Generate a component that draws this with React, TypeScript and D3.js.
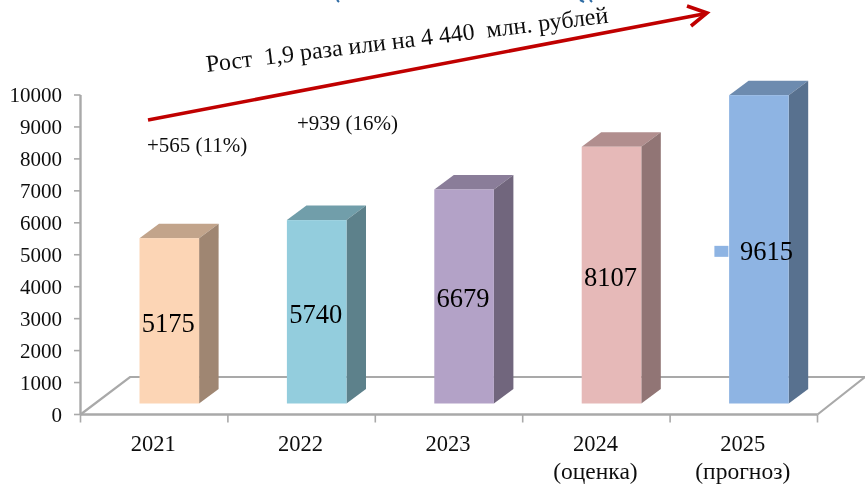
import React from "react";
import * as d3 from "d3";

const categories = ["2021", "2022", "2023", "2024", "2025"];
const subLabels = ["", "", "", "(оценка)", "(прогноз)"];
const values = [5175, 5740, 6679, 8107, 9615];
const drawnHeights = [5175, 5740, 6700, 8035, 9650];
const frontColors = ["#FCD5B5", "#93CDDD", "#B3A2C7", "#E6B9B8", "#8EB4E3"];
const yTicks = d3.range(0, 10001, 1000);
const growthLabel = "Рост  1,9 раза или на 4 440  млн. рублей";
const deltas = ["+565 (11%)", "+939 (16%)"];

const W = 865, H = 484;
const y = d3.scaleLinear().domain([0, 10000]).range([414.5, 95]);
const x = d3.scaleBand<string>().domain(categories).range([80.5, 817.5]);
const DX = 19.5, DY = 14.5, BASE_LIFT = 11;
const BAR_W = 59.6, BAR_OFF = 59;
const FONT = "'Liberation Serif', 'Times New Roman', serif";
const AXIS = "#A9A9A9";

const shade = (c: string, k: number) => {
  const r = d3.rgb(c);
  return d3.rgb(r.r * k, r.g * k, r.b * k).formatHex();
};

export default function App() {
  const line = d3.line();
  return (
    <svg width={W} height={H} viewBox={`0 0 ${W} ${H}`}
      style={{ position: "absolute", left: 0, top: 0, background: "#fff" }} fontFamily={FONT}>
      <defs>
        <filter id="soft" x="-5%" y="-5%" width="110%" height="110%">
          <feGaussianBlur stdDeviation="0.55" />
        </filter>
      </defs>
      <g filter="url(#soft)">
        {/* floor */}
        <path d={line([[x.range()[0], y(0)], [130, 377], [865, 377], [x.range()[1], y(0)]]) as string}
          fill="none" stroke={AXIS} strokeWidth={2.2} />
        <path d={line([[x.range()[0], y(0)], [x.range()[1], y(0)]]) as string} stroke={AXIS} strokeWidth={2.4} />
        <path d={line([[x.range()[0], y(10000)], [x.range()[0], y(0)]]) as string} stroke={AXIS} strokeWidth={2.4} />
        {yTicks.map((t) => (
          <g key={t}>
            <path d={line([[74, y(t)], [x.range()[0], y(t)]]) as string} stroke={AXIS} strokeWidth={1.6} />
            <text x={62} y={y(t) + 7} textAnchor="end" fontSize={21} fill="#111">{t}</text>
          </g>
        ))}
        {[...categories.map((c) => x(c) as number), x.range()[1]].map((t, i) => (
          <path key={i} d={line([[t, y(0)], [t, y(0) + 8]]) as string} stroke={AXIS} strokeWidth={1.6} />
        ))}
        {/* bars */}
        {categories.map((c, i) => {
          const x0 = (x(c) as number) + BAR_OFF;
          const x1 = x0 + BAR_W;
          const bot = y(0) - BASE_LIFT;
          const top = bot - (y(0) - y(drawnHeights[i]));
          return (
            <g key={c}>
              <path d={line([[x0, top], [x0 + DX, top - DY], [x1 + DX, top - DY], [x1, top]]) + "Z"}
                fill={shade(frontColors[i], 0.77)} />
              <path d={line([[x1, top], [x1 + DX, top - DY], [x1 + DX, bot - DY], [x1, bot]]) + "Z"}
                fill={shade(frontColors[i], 0.63)} />
              <rect x={x0} y={top} width={BAR_W} height={bot - top} fill={frontColors[i]} />
            </g>
          );
        })}
        {/* value labels */}
        {categories.map((c, i) => {
          const cx = (x(c) as number) + BAR_OFF + BAR_W / 2;
          const cy = y(0) - BASE_LIFT - (y(0) - y(drawnHeights[i])) / 2 + 2;
          const last = i === categories.length - 1;
          const tx = last ? cx + 7.5 : cx - 1;
          return (
            <g key={c}>
              {last && <rect x={tx - 52} y={cy - 5.5} width={14} height={11} fill={frontColors[i]} />}
              <text x={tx} y={cy + 9} textAnchor="middle" fontSize={26.5} fill="#000">{values[i]}</text>
            </g>
          );
        })}
        {/* category labels */}
        {categories.map((c, i) => {
          const cx = (x(c) as number) + x.bandwidth() / 2 - 1;
          return (
            <g key={c} textAnchor="middle" fill="#111">
              <text x={cx} y={451} fontSize={22.5}>{c}</text>
              {subLabels[i] && <text x={cx} y={479} fontSize={23.5}>{subLabels[i]}</text>}
            </g>
          );
        })}
        {/* growth arrow */}
        <path d={line([[148, 120], [706, 13.5]]) as string} stroke="#C00000" strokeWidth={3.6} fill="none" />
        <path d={line([[687, 6], [707, 13], [691, 26]]) as string} stroke="#C00000" strokeWidth={3.6} fill="none" />
        <text transform="translate(207,72) rotate(-7)" fontSize={24} fill="#111" style={{ whiteSpace: "pre" }}>{growthLabel}</text>
        <text x={147} y={152} fontSize={21} fill="#111">{deltas[0]}</text>
        <text x={297} y={130} fontSize={21} fill="#111">{deltas[1]}</text>
        {/* clipped remnants of the title at the top edge */}
        <path d="M337 0 L339 2 M580 0 L584 2 M590 0 L592 2" stroke="#2E6CA4" strokeWidth={2} fill="none" />
      </g>
    </svg>
  );
}
